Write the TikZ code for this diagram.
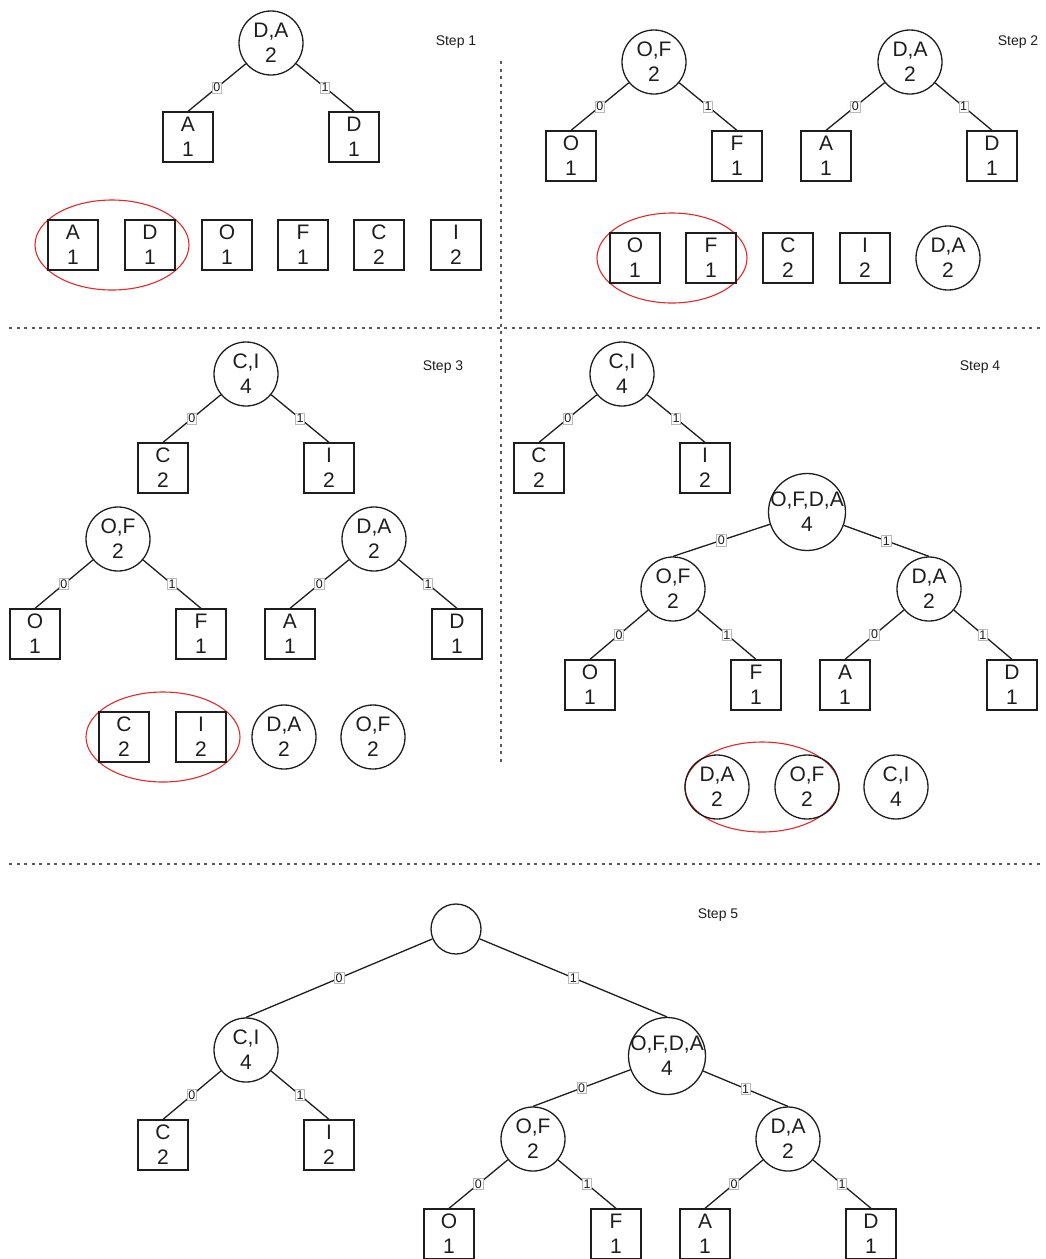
\documentclass[tikz,border=0pt]{standalone}
\usepackage{fontspec}
\setmainfont{Liberation Sans}
\usetikzlibrary{shapes.geometric}
\definecolor{redc}{RGB}{228,40,40}
\definecolor{inkc}{RGB}{30,30,30}
\definecolor{sepc}{RGB}{90,90,90}
\newcommand\nfont{\fontsize{21}{25}\selectfont}
\newcommand\sfontx{\fontsize{14}{16}\selectfont}
\newcommand\lfont{\fontsize{12.5}{13}\selectfont}
\tikzset{
  sq/.style={draw=inkc, line width=1.3pt, minimum size=50pt, inner sep=0pt, align=center, font=\nfont, text=inkc},
  circ/.style={draw=inkc, line width=1.3pt, circle, minimum size=64pt, inner sep=0pt},
  bigcirc/.style={draw=inkc, line width=1.3pt, circle, minimum size=77pt, inner sep=0pt},
  rootcirc/.style={draw=inkc, line width=1.3pt, circle, minimum size=50pt, inner sep=0pt},
  ctext/.style={align=center, inner sep=0pt, font=\nfont, text=inkc},
  edge/.style={draw=inkc, line width=1.3pt},
  lbl/.style={draw=gray!55, fill=white, inner sep=1.2pt, font=\lfont, text=inkc, line width=0.7pt},
  steplbl/.style={font=\sfontx, text=inkc, inner sep=0pt},
  sel/.style={draw=redc, line width=1.1pt, ellipse, minimum width=154pt, minimum height=90pt, inner sep=0pt},
  sepline/.style={draw=sepc, line width=1.2pt, dash pattern=on 3pt off 4.5pt}
}
\newcommand{\cn}[5]{%
  \node[#1] (#2) at (#3) {};
  \node[ctext] (#2-t) at (#2.center) {#4\\#5};
}
\begin{document}
\begin{tikzpicture}[x=1pt,y=-1pt]
\useasboundingbox (0,0) rectangle (1045,1259);

% separators
\draw[sepline] (501,61) -- (501,762);
\draw[sepline] (9,328) -- (1041,328);
\draw[sepline] (9,864) -- (1041,864);

% ---------------- Step 1
\node[steplbl] (t1) at (456,42) {Step 1};
\cn{circ}{da1}{271,43}{D,A}{2}
\node[sq] (s1a) at (188,137) {A\\1};
\node[sq] (s1d) at (354,137) {D\\1};
\draw[edge] (da1) -- node[lbl]{0} (s1a.north);
\draw[edge] (da1) -- node[lbl]{1} (s1d.north);
\node[sel] (e1) at (112,245) {};
\node[sq] (r1a) at (73,245) {A\\1};
\node[sq] (r1d) at (150,245) {D\\1};
\node[sq] (r1o) at (227,245) {O\\1};
\node[sq] (r1f) at (303,245) {F\\1};
\node[sq] (r1c) at (379,245) {C\\2};
\node[sq] (r1i) at (456,245) {I\\2};

% ---------------- Step 2
\node[steplbl] (t2) at (1018,42) {Step 2};
\cn{circ}{of2}{654,62}{O,F}{2}
\node[sq] (s2o) at (571,156) {O\\1};
\node[sq] (s2f) at (737,156) {F\\1};
\draw[edge] (of2) -- node[lbl]{0} (s2o.north);
\draw[edge] (of2) -- node[lbl]{1} (s2f.north);
\cn{circ}{da2}{910,62}{D,A}{2}
\node[sq] (s2a) at (826,156) {A\\1};
\node[sq] (s2d) at (992,156) {D\\1};
\draw[edge] (da2) -- node[lbl]{0} (s2a.north);
\draw[edge] (da2) -- node[lbl]{1} (s2d.north);
\node[sel, minimum width=150pt] (e2) at (672,258) {};
\node[sq] (r2o) at (635,258) {O\\1};
\node[sq] (r2f) at (711,258) {F\\1};
\node[sq] (r2c) at (788,258) {C\\2};
\node[sq] (r2i) at (865,258) {I\\2};
\cn{circ}{r2da}{948,258}{D,A}{2}

% ---------------- Step 3
\node[steplbl] (t3) at (443,367) {Step 3};
\cn{circ}{ci3}{246,374}{C,I}{4}
\node[sq] (s3c) at (163,468) {C\\2};
\node[sq] (s3i) at (329,468) {I\\2};
\draw[edge] (ci3) -- node[lbl]{0} (s3c.north);
\draw[edge] (ci3) -- node[lbl]{1} (s3i.north);
\cn{circ}{of3}{118,539}{O,F}{2}
\node[sq] (s3o) at (35,634) {O\\1};
\node[sq] (s3f) at (201,634) {F\\1};
\draw[edge] (of3) -- node[lbl]{0} (s3o.north);
\draw[edge] (of3) -- node[lbl]{1} (s3f.north);
\cn{circ}{da3}{374,539}{D,A}{2}
\node[sq] (s3a) at (290,634) {A\\1};
\node[sq] (s3d) at (457,634) {D\\1};
\draw[edge] (da3) -- node[lbl]{0} (s3a.north);
\draw[edge] (da3) -- node[lbl]{1} (s3d.north);
\node[sel] (e3) at (163,737) {};
\node[sq] (r3c) at (124,737) {C\\2};
\node[sq] (r3i) at (201,737) {I\\2};
\cn{circ}{r3da}{284,737}{D,A}{2}
\cn{circ}{r3of}{373,737}{O,F}{2}

% ---------------- Step 4
\node[steplbl] (t4) at (980,367) {Step 4};
\cn{circ}{ci4}{622,374}{C,I}{4}
\node[sq] (s4c) at (539,468) {C\\2};
\node[sq] (s4i) at (705,468) {I\\2};
\draw[edge] (ci4) -- node[lbl]{0} (s4c.north);
\draw[edge] (ci4) -- node[lbl]{1} (s4i.north);
\cn{bigcirc}{ofda4}{807,512}{O,F,D,A}{4}
\cn{circ}{of4}{673,589}{O,F}{2}
\cn{circ}{da4}{929,589}{D,A}{2}
\draw[edge] (ofda4) -- node[lbl]{0} (of4.north);
\draw[edge] (ofda4) -- node[lbl]{1} (da4.north);
\node[sq] (s4o) at (590,685) {O\\1};
\node[sq] (s4f) at (756,685) {F\\1};
\draw[edge] (of4) -- node[lbl]{0} (s4o.north);
\draw[edge] (of4) -- node[lbl]{1} (s4f.north);
\node[sq] (s4a) at (845,685) {A\\1};
\node[sq] (s4d) at (1012,685) {D\\1};
\draw[edge] (da4) -- node[lbl]{0} (s4a.north);
\draw[edge] (da4) -- node[lbl]{1} (s4d.north);
\node[sel] (e4) at (762,787) {};
\cn{circ}{r4da}{717,787}{D,A}{2}
\cn{circ}{r4of}{807,787}{O,F}{2}
\cn{circ}{r4ci}{896,787}{C,I}{4}

% ---------------- Step 5
\node[steplbl] (t5) at (718,915) {Step 5};
\node[rootcirc] (root5) at (456,929) {};
\cn{circ}{ci5}{246,1050}{C,I}{4}
\cn{bigcirc}{ofda5}{667,1056}{O,F,D,A}{4}
\draw[edge] (root5) -- node[lbl]{0} (ci5.north);
\draw[edge] (root5) -- node[lbl]{1} (ofda5.north);
\node[sq] (s5c) at (163,1145) {C\\2};
\node[sq] (s5i) at (329,1145) {I\\2};
\draw[edge] (ci5) -- node[lbl]{0} (s5c.north);
\draw[edge] (ci5) -- node[lbl]{1} (s5i.north);
\cn{circ}{of5}{533,1139}{O,F}{2}
\cn{circ}{da5}{788,1139}{D,A}{2}
\draw[edge] (ofda5) -- node[lbl]{0} (of5.north);
\draw[edge] (ofda5) -- node[lbl]{1} (da5.north);
\node[sq] (s5o) at (449,1234) {O\\1};
\node[sq] (s5f) at (616,1234) {F\\1};
\draw[edge] (of5) -- node[lbl]{0} (s5o.north);
\draw[edge] (of5) -- node[lbl]{1} (s5f.north);
\node[sq] (s5a) at (705,1234) {A\\1};
\node[sq] (s5d) at (871,1234) {D\\1};
\draw[edge] (da5) -- node[lbl]{0} (s5a.north);
\draw[edge] (da5) -- node[lbl]{1} (s5d.north);
\end{tikzpicture}
\end{document}
